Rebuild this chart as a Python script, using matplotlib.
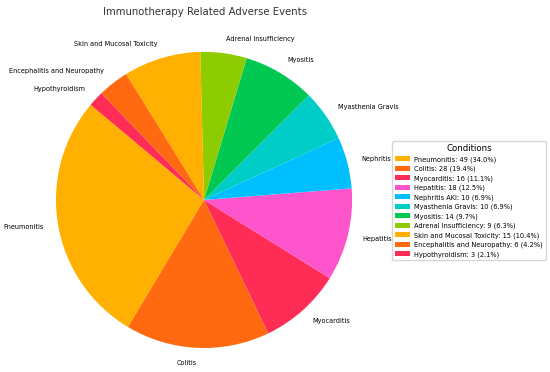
import matplotlib.pyplot as plt

# data
conditions = ['Pneumonitis', 'Colitis', 'Myocarditis', 'Hepatitis', 'Nephritis',
              'Myasthenia Gravis', 'Myositis', 'Adrenal Insufficiency',
              'Skin and Mucosal Toxicity', 'Encephalitis and Neuropathy', 'Hypothyroidism']
legend_names = ['Pneumonitis', 'Colitis', 'Myocarditis', 'Hepatitis', 'Nephritis AKI',
                'Myasthenia Gravis', 'Myositis', 'Adrenal Insufficiency',
                'Skin and Mucosal Toxicity', 'Encephalitis and Neuropathy', 'Hypothyroidism']
counts = [49, 28, 16, 18, 10, 10, 14, 9, 15, 6, 3]
percents = [34.0, 19.4, 11.1, 12.5, 6.9, 6.9, 9.7, 6.3, 10.4, 4.2, 2.1]

colors = ['#FFB000', '#FF6A10', '#FF2D55', '#FF55CC', '#00BFFF', '#00CDC8',
          '#00C853', '#8CCC00', '#FFB000', '#FF6A10', '#FF2D55']

fig = plt.figure(figsize=(5.5, 3.72), dpi=100)
# square axes, pie radius ~148 px
ax = fig.add_axes([0.0345, -0.035, 0.673, 0.995])

wedges, texts = ax.pie(counts, labels=conditions, colors=colors, startangle=140,
                       labeldistance=1.1, textprops={'fontsize': 4.7})
ax.set_xlim(-1.25, 1.25)
ax.set_ylim(-1.25, 1.25)
ax.set_aspect('equal')

fig.text(0.372, 0.968, 'Immunotherapy Related Adverse Events', ha='center', va='center',
         fontsize=7.3, color='#333333')

legend_labels = [f'{n}: {c} ({p}%)' for n, c, p in zip(legend_names, counts, percents)]
leg = fig.legend(wedges, legend_labels, title='Conditions', loc='center left',
                 bbox_to_anchor=(0.707, 0.46), fontsize=4.8, title_fontsize=6.2,
                 handlelength=2.3, handleheight=0.8, labelspacing=0.45,
                 handletextpad=0.6, borderpad=0.4, frameon=True)
leg.get_frame().set_edgecolor('#cccccc')

plt.savefig('out.png', dpi=100, facecolor='white')
